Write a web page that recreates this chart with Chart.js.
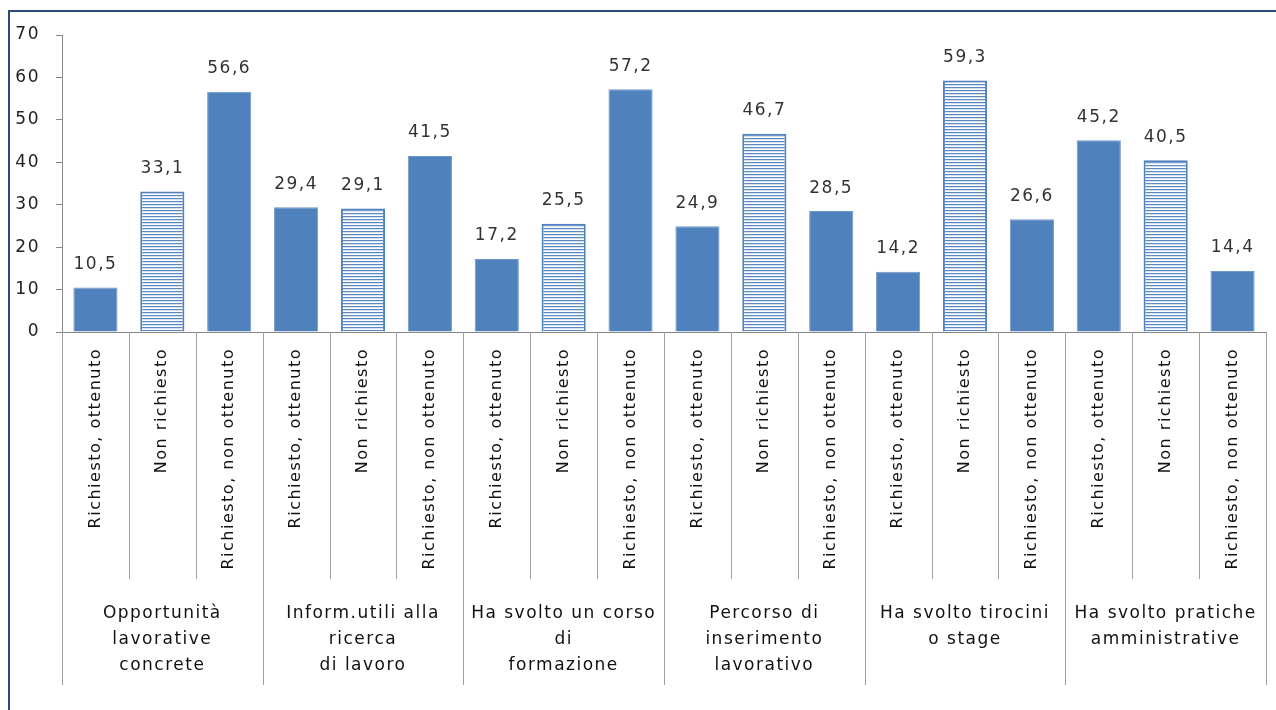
<!DOCTYPE html>
<html><head><meta charset="utf-8">
<script src="https://cdn.jsdelivr.net/npm/chart.js@4.4.1/dist/chart.umd.min.js"></script>
<style>html,body{margin:0;padding:0;background:#fff;overflow:hidden}</style>
</head><body>
<canvas id="c" width="1276" height="710"></canvas>
<script>
const groups = [
  ["Opportunità","lavorative","concrete"],
  ["Inform.utili alla","ricerca","di lavoro"],
  ["Ha svolto un corso","di","formazione"],
  ["Percorso di","inserimento","lavorativo"],
  ["Ha svolto tirocini","o stage"],
  ["Ha svolto pratiche","amministrative"]
];
const subcats = ["Richiesto, ottenuto","Non richiesto","Richiesto, non ottenuto"];
const values = [10.5,33.1,56.6, 29.4,29.1,41.5, 17.2,25.5,57.2, 24.9,46.7,28.5, 14.2,59.3,26.6, 45.2,40.5,14.4];
const yTicks = [0,10,20,30,40,50,60,70];

const labels = groups.flatMap(() => subcats);
const FONT = "'DejaVu Sans', sans-serif";
const SPACING = '1.5px';
const BLUE = '#4f81bd';

const canvas = document.getElementById('c');
const mainCtx = canvas.getContext('2d');
const pc = document.createElement('canvas');
pc.width = 4; pc.height = 3;
const pg = pc.getContext('2d');
pg.fillStyle = '#ffffff'; pg.fillRect(0,0,4,3);
pg.fillStyle = '#5a89c2'; pg.fillRect(0,0,4,1);
pg.fillStyle = '#d6e2f1'; pg.fillRect(0,1,4,1);
const stripes = mainCtx.createPattern(pc, 'repeat');

const isStriped = labels.map(l => l === "Non richiesto");

const deco = {
  id: 'deco',
  beforeUpdate(chart){ chart.ctx.letterSpacing = SPACING; },
  beforeLayout(chart){ chart.ctx.letterSpacing = SPACING; },
  beforeDraw(chart){
    const ctx = chart.ctx;
    ctx.letterSpacing = SPACING;
    ctx.save();
    ctx.fillStyle = '#fff';
    ctx.fillRect(0,0,chart.width,chart.height);
    ctx.restore();
  },
  afterDatasetsDraw(chart){
    const ctx = chart.ctx;
    const meta = chart.getDatasetMeta(0);
    ctx.save();
    ctx.letterSpacing = SPACING;
    ctx.font = '17px ' + FONT;
    ctx.fillStyle = '#333';
    ctx.textAlign = 'center';
    ctx.textBaseline = 'middle';
    meta.data.forEach((bar, i) => {
      const txt = values[i].toFixed(1).replace('.', ',');
      ctx.fillText(txt, bar.x, bar.y - 23);
    });
    ctx.restore();
  },
  afterDraw(chart){
    const ctx = chart.ctx;
    const xs = chart.scales.x;
    const a = chart.chartArea;
    const n = values.length;
    const step = xs.getPixelForValue(1) - xs.getPixelForValue(0);
    ctx.save();
    ctx.strokeStyle = '#a0a0a0';
    ctx.lineWidth = 1;
    for (let i = 0; i <= n; i++){
      const px = (i < n ? xs.getPixelForValue(i) - step/2 : xs.getPixelForValue(n-1) + step/2);
      const x = Math.round(px) + 0.5;
      const y2 = (i % 3 === 0) ? 685 : 579;
      ctx.beginPath(); ctx.moveTo(x, a.bottom); ctx.lineTo(x, y2); ctx.stroke();
    }
    ctx.letterSpacing = SPACING;
    ctx.font = '17px ' + FONT;
    ctx.fillStyle = '#111';
    ctx.textAlign = 'center';
    ctx.textBaseline = 'middle';
    groups.forEach((lines, g) => {
      const cx = xs.getPixelForValue(g*3 + 1);
      lines.forEach((t, k) => ctx.fillText(t, cx, 614 + k*26));
    });
    // outer frame (top and left visible)
    ctx.strokeStyle = '#2b4a7a';
    ctx.lineWidth = 2;
    ctx.beginPath();
    ctx.moveTo(chart.width, 11); ctx.lineTo(9, 11); ctx.lineTo(9, chart.height);
    ctx.stroke();
    ctx.restore();
  }
};

new Chart(canvas, {
  type: 'bar',
  data: {
    labels: labels,
    datasets: [{
      data: values,
      backgroundColor: isStriped.map(s => s ? stripes : BLUE),
      borderColor: isStriped.map(s => s ? BLUE : '#6f97c9'),
      borderWidth: isStriped.map(s => s ? 2 : 1),
      barPercentage: 0.66,
      categoryPercentage: 1.0
    }]
  },
  options: {
    responsive: false,
    animation: false,
    devicePixelRatio: 1,
    layout: { padding: { top: 35, right: 10, bottom: 0, left: 0 } },
    plugins: { legend: { display: false }, tooltip: { enabled: false } },
    scales: {
      x: {
        grid: { display: false },
        border: { display: true, color: '#868686', width: 1 },
        ticks: {
          autoSkip: false, maxRotation: 90, minRotation: 90, padding: 8,
          color: '#111', font: { family: FONT, size: 16 }
        },
        afterFit(s){ s.height = 378; s.paddingLeft = 0; s.paddingRight = 0; }
      },
      y: {
        min: 0, max: 70,
        afterBuildTicks(s){ s.ticks = yTicks.map(v => ({ value: v })); },
        grid: { display: true, drawOnChartArea: false, drawTicks: true, tickLength: 6, color: '#868686' },
        border: { display: true, color: '#868686', width: 1 },
        ticks: { padding: 16, color: '#222', font: { family: FONT, size: 17 } },
        afterFit(s){ s.width = 62; s.paddingTop = 0; s.paddingBottom = 0; }
      }
    }
  },
  plugins: [deco]
});
</script>
</body></html>
